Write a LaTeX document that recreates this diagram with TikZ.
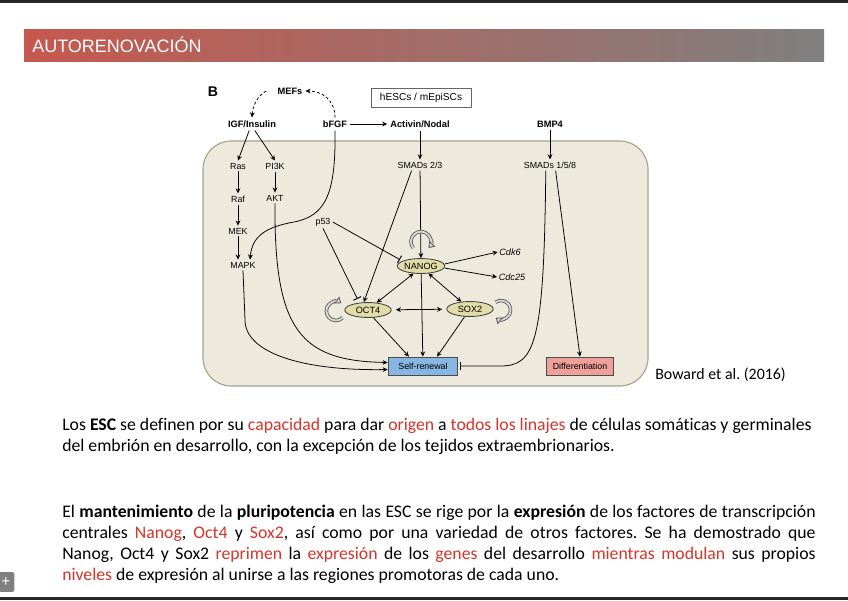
\documentclass[tikz,border=0pt]{standalone}
\usepackage{fontspec}
\setmainfont{Carlito}[Ligatures=NoCommon]
\newfontfamily\helv{Liberation Sans}
\usetikzlibrary{arrows.meta,shapes.geometric}
\frenchspacing
\definecolor{panelfill}{RGB}{237,234,221}
\definecolor{paneldraw}{RGB}{168,162,140}
\definecolor{tffill}{RGB}{226,220,168}
\definecolor{renewfill}{RGB}{136,182,226}
\definecolor{difffill}{RGB}{240,160,155}
\definecolor{hdred}{RGB}{198,88,78}
\definecolor{hdgrey}{RGB}{188,186,190}
\definecolor{hddark}{RGB}{128,128,128}
\definecolor{txtred}{RGB}{214,52,40}
\newcommand{\redw}[1]{\textcolor{txtred}{#1}}
\tikzset{
  lab/.style={font=\helv\fontsize{6.3}{7}\selectfont, inner sep=1.5pt},
  blab/.style={font=\helv\bfseries\fontsize{6.6}{8}\selectfont, inner sep=2pt},
  gene/.style={font=\helv\itshape\fontsize{6.5}{8}\selectfont, inner sep=1pt},
  tf/.style={ellipse, draw=black!75, fill=tffill, line width=0.6pt, minimum width=33pt, minimum height=10.6pt, inner sep=0pt, font=\helv\fontsize{6.5}{8}\selectfont},
  outbox/.style={draw=black!70, line width=0.6pt, minimum width=49.6pt, minimum height=12.8pt, inner sep=1pt, font=\helv\fontsize{6.3}{7}\selectfont},
  arr/.style={-{Stealth[length=3.6pt,width=3.4pt]}, line width=0.55pt},
  twoarr/.style={{Stealth[length=3.6pt,width=3.4pt]}-{Stealth[length=3.6pt,width=3.4pt]}, line width=0.55pt},
  blunt/.style={-{Bar[width=6pt,line width=0.7pt]}, line width=0.55pt},
  dasharr/.style={arr, dash pattern=on 2pt off 1.6pt},
  selfloop/.style={draw=black!65, double=black!15, line width=0.6pt, double distance=1.3pt, -{Triangle[length=4pt,width=6pt,fill=black!15]}},
  panel/.style={draw=paneldraw, fill=panelfill, line width=0.8pt, rounded corners=20pt},
  body/.style={font=\fontsize{12.6}{15}\selectfont, anchor=base west, inner sep=0pt},
}

\begin{document}
\begin{tikzpicture}[x=0.025cm,y=0.025cm]
\useasboundingbox (0,0) rectangle (848,-600);
\fill[black!85] (0,0) rectangle (848,-2.5);
\fill[black!85] (0,-597) rectangle (848,-600);
\shade[left color=hdred, middle color=hdgrey, right color=hddark] (24,-29) rectangle (824,-61);
\node[font=\helv\fontsize{12.8}{14}\selectfont, text=white, anchor=base west, inner sep=0pt] (title) at (32,-52) {AUTORENOVACIÓN};
\node[fill=black!50, rounded corners=1.5pt, minimum width=12pt, minimum height=14pt, text=white, inner sep=0pt, font=\helv\fontsize{11}{11}\selectfont] (plus) at (6,-582) {+};

\draw[panel] (203,-141) rectangle (648,-386);
\node[font=\helv\bfseries\fontsize{10}{12}\selectfont, inner sep=0pt] (panelB) at (213,-92) {B};
\node[blab] (mefs) at (290,-91) {MEFs};
\node[draw=black!60, line width=0.6pt, minimum width=71pt, minimum height=14pt, inner sep=1pt, font=\helv\fontsize{7.2}{8}\selectfont] (cells) at (421,-98) {hESCs / mEpiSCs};
\node[blab] (igf) at (252,-124) {IGF/Insulin};
\node[blab] (bfgf) at (335,-124) {bFGF};
\node[blab] (act) at (420,-124) {Activin/Nodal};
\node[blab] (bmp) at (550,-124) {BMP4};
\node[lab] (ras) at (238,-166) {Ras};
\node[lab] (pik) at (275,-166) {PI3K};
\node[lab] (raf) at (238,-199) {Raf};
\node[lab] (akt) at (275,-198) {AKT};
\node[lab] (mek) at (238,-231) {MEK};
\node[lab] (mapk) at (243,-265) {MAPK};
\node[lab] (smad23) at (420,-165) {SMADs 2/3};
\node[lab] (smad158) at (550,-165) {SMADs 1/5/8};
\node[lab] (p53) at (323,-222) {p53};
\node[tf] (nanog) at (421,-266) {NANOG};
\node[tf] (oct) at (368,-310) {OCT4};
\node[tf] (sox) at (470,-309) {SOX2};
\node[gene] (cdk) at (510,-252) {Cdk6};
\node[gene] (cdc) at (512,-277) {Cdc25};
\node[outbox, fill=renewfill] (self) at (423,-366) {Self-renewal};
\node[outbox, fill=difffill, minimum width=47.5pt] (diffn) at (580,-366) {Differentiation};

\draw[dasharr] ([xshift=-6pt]mefs.west) .. controls (258,-96) and (253,-104) .. (igf.north);
\draw[dasharr] (bfgf.north) .. controls (335,-100) and (322,-91) .. (mefs.east);
\draw[arr] (bfgf) -- (act);
\draw[arr] ([xshift=-2pt]igf.south) -- (ras.north);
\draw[arr] ([xshift=2pt]igf.south) -- (pik.north);
\draw[arr] (ras) -- (raf);
\draw[arr] (pik) -- (akt);
\draw[arr] (raf) -- (mek);
\draw[arr] (mek.south) -- (mek.south |- mapk.north);
\draw[arr] (bfgf.south) .. controls (336,-195) and (325,-216) .. (294,-222) .. controls (266,-227) and (252,-236) .. ([xshift=5pt]mapk.north);
\draw[arr] (akt.south) .. controls (274,-330) and (300,-361) .. ([yshift=2.5pt]self.west);
\draw[arr] (mapk.south) -- (245,-320) .. controls (245,-352) and (300,-371) .. ([yshift=-2.5pt]self.west);
\draw[arr] (act) -- (smad23);
\draw[arr] (bmp) -- (smad158);
\draw[arr] (smad23) -- (nanog);
\draw[arr] ([xshift=-6pt]smad23.south) -- ([xshift=-3pt]oct.north);
\draw[blunt, shorten >=2pt] (p53.east) -- (nanog.165);
\draw[blunt, shorten >=3pt] (p53.south) -- (oct.140);
\draw[arr] ([yshift=1.5pt]nanog.east) -- (cdk.west);
\draw[arr] ([yshift=-1.5pt]nanog.east) -- (cdc.west);
\draw[twoarr] (nanog.225) -- (oct.40);
\draw[twoarr] (nanog.-45) -- (sox.140);
\draw[twoarr, shorten <=3pt, shorten >=3pt] (oct) -- (sox);
\draw[arr] (nanog) -- (self);
\draw[arr] (oct.-55) -- ([xshift=-10pt]self.north);
\draw[arr] (sox.-125) -- ([xshift=10pt]self.north);
\draw[blunt, shorten >=1.5pt] ([xshift=-3pt]smad158.south) .. controls (544,-345) and (535,-366) .. (500,-366) -- (self.east);
\draw[arr] ([xshift=4pt]smad158.south) -- (diffn.north);
\draw[selfloop] (nanog.north) ++(-7.7,10.1) arc[start angle=220, end angle=-40, radius=10];
\draw[selfloop] (oct.west) ++(-1.8,-7.7) arc[start angle=-45, end angle=-305, radius=9.5];
\draw[selfloop] (sox.east) ++(2,6.8) arc[start angle=125, end angle=-125, radius=9.5];

\node[body, font=\fontsize{11.3}{14}\selectfont] (cite) at (655,-379) {Boward et al. (2016)};
\node[body] (p1a) at (62,-430) {Los \textbf{ESC} se definen por su \redw{capacidad} para dar \redw{origen} a \redw{todos los linajes} de células somáticas y germinales};
\node[body] (p1b) at (62,-451) {del embrión en desarrollo, con la excepción de los tejidos extraembrionarios.};
\node[body] (p2a) at (62,-517) {\makebox[535.7pt][s]{El \textbf{mantenimiento} de la \textbf{pluripotencia} en las ESC se rige por la \textbf{expresión} de los factores de transcripción}};
\node[body] (p2b) at (62,-538) {\makebox[535.7pt][s]{centrales \redw{Nanog}, \redw{Oct4} y \redw{Sox2}, así como por una variedad de otros factores. Se ha demostrado que}};
\node[body] (p2c) at (62,-559) {\makebox[535.7pt][s]{Nanog, Oct4 y Sox2 \redw{reprimen} la \redw{expresión} de los \redw{genes} del desarrollo \redw{mientras modulan} sus propios}};
\node[body] (p2d) at (62,-580) {\redw{niveles} de expresión al unirse a las regiones promotoras de cada uno.};
\end{tikzpicture}
\end{document}
